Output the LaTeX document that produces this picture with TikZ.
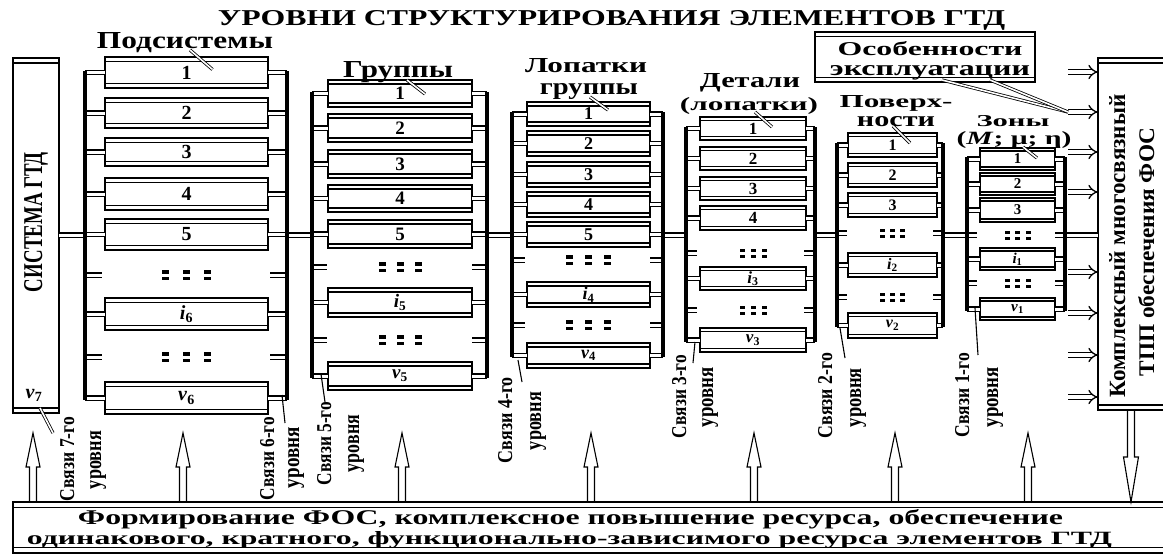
\documentclass[tikz,border=0pt]{standalone}
\usepackage{fontspec}
\setmainfont{Liberation Serif}
\usepackage{graphicx}
\usetikzlibrary{calc,arrows.meta}

\newcommand{\rsz}[3]{\resizebox{#1pt}{#2pt}{\bfseries #3}}
\newcommand{\elinset}{4}

\tikzset{
 elbox/.style={draw, line width=1.8pt, fill=white, inner sep=0pt, outer sep=0pt,
   path picture={\draw[line width=1.3pt]
     ([yshift=-\elinset pt]path picture bounding box.north west) -- ([yshift=-\elinset pt]path picture bounding box.north east)
     ([yshift=\elinset pt]path picture bounding box.south west) -- ([yshift=\elinset pt]path picture bounding box.south east);}},
 dbl/.style={double, double distance=3pt, line width=1.3pt},
 lead/.style={double, double distance=1.6pt, line width=0.8pt},
 thinl/.style={line width=1.1pt},
 bar/.style={line width=3.6pt, line cap=rect},
 impl/.style={double, double distance=3.6pt, line width=1.3pt, -{Implies}},
 lbl/.style={inner sep=0pt, anchor=base},
 vlbl/.style={inner sep=0pt, anchor=base, rotate=90},
 hollow/.style={line width=1.1pt, line join=miter},
 pics/dotrow/.style n args={4}{code={\foreach \k in {-1,0,1}{
   \fill (\k*#1-#2/2,-#4/2-#3) rectangle (\k*#1+#2/2,-#4/2);
   \fill (\k*#1-#2/2,#4/2) rectangle (\k*#1+#2/2,#4/2+#3);}}},
 pics/uparrow/.style={code={\draw[hollow] (-3.5,0) -- (-3.5,-35) -- (-7,-35) -- (0,-69) -- (7,-35) -- (3.5,-35) -- (3.5,0);}},
 pics/downarrow/.style={code={\draw[hollow] (-3.5,0) -- (-3.5,47) -- (-7.5,47) -- (0,92) -- (7.5,47) -- (3.5,47) -- (3.5,0);}},
}

% #1 name, #2 cx, #3 width, #4 font size, #5 inset, #6 boxes, #7 dots, #8 dot params, #9 stub length
\newcommand{\elgroup}[9]{%
  \def\elinset{#5}%
  \foreach \ta/\tb/\lab [count=\i] in {#6} {
    \pgfmathsetmacro\hh{\tb-\ta}
    \pgfmathsetmacro\cy{(\ta+\tb)/2}
    \node[elbox, minimum width=#3pt, minimum height=\hh pt, font=\fontsize{#4}{#4}\selectfont\bfseries] (#1b\i) at (#2,\cy) {\lab};
    \draw[dbl] (#1b\i.west) -- (#1b\i.west -| #1L);
    \draw[dbl] (#1b\i.east) -- (#1b\i.east -| #1R);
  }
  \foreach \yy [count=\j] in {#7} {
    \coordinate (#1d\j) at (#2,\yy);
    \pic at (#1d\j) {dotrow=#8};
    \draw[dbl] (#1d\j -| #1L) -- ++(#9,0);
    \draw[dbl] (#1d\j -| #1R) -- ++(-#9,0);
  }
}

\begin{document}
\begin{tikzpicture}[x=1pt,y=-1pt]
\useasboundingbox (0,0) rectangle (1163,554);
\clip (0,0) rectangle (1163,554);

% big boxes
\def\elinset{5}
\node[elbox, minimum width=46pt, minimum height=355pt] (sys) at (36,235.5) {};
\node[elbox, minimum width=80pt, minimum height=352pt] (rbox) at (1138,234) {};
\def\elinset{4.5}
\node[elbox, minimum width=220pt, minimum height=50pt] (osob) at (925,57) {};
\def\elinset{5.5}
\node[elbox, minimum width=1170pt, minimum height=51pt] (bot) at (598,527.5) {};

% bar positions
\coordinate (bus) at (0,235);
\coordinate (g1L) at (85,0);   \coordinate (g1R) at (287,0);
\coordinate (g2L) at (312,0);  \coordinate (g2R) at (487,0);
\coordinate (g3L) at (512,0);  \coordinate (g3R) at (663,0);
\coordinate (g4L) at (686,0);  \coordinate (g4R) at (815,0);
\coordinate (g5L) at (837,0);  \coordinate (g5R) at (943,0);
\coordinate (g6L) at (967,0);  \coordinate (g6R) at (1065,0);

% groups
\elgroup{g1}{186.5}{163}{20}{4.5}{57/88/1, 98/128/2, 138/166/3, 178/210/4, 219/250/5, 298/330/\textit{i}\textsubscript{6}, 382/414/\textit{ν}\textsubscript{6}}{275,357}{{21}{7}{3.5}{3}}{17}
\elgroup{g2}{400}{144}{19}{4}{80/107/1, 114/142/2, 150/178/3, 185/212/4, 220/248/5, 288/317/\textit{i}\textsubscript{5}, 362/390/\textit{ν}\textsubscript{5}}{267,340}{{18}{7}{3.5}{3}}{15}
\elgroup{g3}{588.5}{123}{18}{4}{102/126/1, 131/156/2, 162/187/3, 192/217/4, 222/247/5, 282/307/\textit{i}\textsubscript{4}, 343/368/\textit{ν}\textsubscript{4}}{260,325}{{19}{7}{3.5}{3}}{13}
\elgroup{g4}{753}{106}{17}{3.5}{117/140/1, 147/170/2, 177/200/3, 206/230/4, 267/290/\textit{i}\textsubscript{3}, 328/352/\textit{ν}\textsubscript{3}}{253,310}{{11}{5}{3}{3}}{11}
\elgroup{g5}{892.5}{89}{16}{3.5}{133/157/1, 163/187/2, 193/217/3, 253/277/\textit{i}\textsubscript{2}, 313/338/\textit{ν}\textsubscript{2}}{233,297}{{10}{5}{3}{3}}{10}
\elgroup{g6}{1017.5}{75}{15}{3}{148/170/1, 173/195/2, 198/222/3, 248/270/\textit{i}\textsubscript{1}, 298/320/\textit{ν}\textsubscript{1}}{235,283}{{10.5}{5}{3}{3}}{10}

% main bus
\draw[dbl] (sys.east |- bus) -- (g1L |- bus);
\draw[dbl] (g1R |- bus) -- (g2L |- bus);
\draw[dbl] (g2R |- bus) -- (g3L |- bus);
\draw[dbl] (g3R |- bus) -- (g4L |- bus);
\draw[dbl] (g4R |- bus) -- (g5L |- bus);
\draw[dbl] (g5R |- bus) -- (g6L |- bus);
\draw[dbl] (g6R |- bus) -- (rbox.west |- bus);

% bars
\foreach \g/\n in {g1/7,g2/7,g3/7,g4/6,g5/5,g6/5} {
  \draw[bar] (\g L |- \g b1.center) -- (\g L |- \g b\n.center);
  \draw[bar] (\g R |- \g b1.center) -- (\g R |- \g b\n.center);
}

% title
\node[lbl] (title) at (611.5,25) {\rsz{787}{15}{УРОВНИ СТРУКТУРИРОВАНИЯ ЭЛЕМЕНТОВ ГТД}};

% group titles
\node[lbl] (g1t) at (185,48) {\rsz{176}{16}{Подсистемы}};
\node[lbl] (g2t) at (398,77) {\rsz{110}{16}{Группы}};
\node[lbl] (g3t) at (586,73) {\rsz{122}{14}{Лопатки}};
\node[lbl] (g3u) at (589,94) {\rsz{98}{11}{группы}};
\node[lbl] (g4t) at (750,88) {\rsz{100}{14}{Детали}};
\node[lbl] (g4u) at (749,110) {\rsz{138}{13}{(лопатки)}};
\node[lbl] (g5t) at (896,107) {\rsz{113}{12}{Поверх-}};
\node[lbl] (g5u) at (896,126) {\rsz{78}{10}{ности}};
\node[lbl] (g6t) at (1013,126) {\rsz{73}{11}{Зоны}};
\node[lbl] (g6u) at (1014,144) {\rsz{115}{13}{(\textit{M}; μ; η)}};

% leaders from titles
\draw[lead] ($(g1t.base)+(5,2)$) -- ($(g1b1.center)+(26,-3)$);
\draw[lead] ($(g2t.base)+(9,3)$) -- ($(g2b1.center)+(25,0.5)$);
\draw[lead] ($(g3u.base)+(1,3)$) -- ($(g3b1.center)+(19.5,-4)$);
\draw[lead] ($(g4u.base)+(6,2)$) -- ($(g4b1.center)+(19,-1.5)$);
\draw[lead] ($(g5u.base)+(-3,0)$) -- ($(g5b1.center)+(17.5,-2)$);
\draw[lead] ($(g6u.base)+(9,3)$) -- ($(g6b1.center)+(19.5,-1)$);

% exploitation box text
\node[lbl] (o1) at (930,55) {\rsz{185}{14}{Особенности}};
\node[lbl] (o2) at (930,75) {\rsz{200}{10}{эксплуатации}};

% side texts
\node[vlbl] (syst) at (42,222) {\rsz{140}{18}{СИСТЕМА ГТД}};
\node[font=\fontsize{20}{20}\selectfont\bfseries, inner sep=0pt] (nu7) at (34,395) {\textit{ν}\textsubscript{7}};
\node[vlbl] (rt1) at (1125,246) {\rsz{303}{16}{Комплексный многосвязный}};
\node[vlbl] (rt2) at (1154,252) {\rsz{249}{16}{ТПП обеспечения ФОС}};

% bottom texts
\node[lbl] (bt1) at (570.5,524) {\rsz{985}{15}{Формирование ФОС, комплексное повышение ресурса, обеспечение}};
\node[lbl] (bt2) at (569.5,544) {\rsz{1085}{13}{одинакового, кратного, функционально-зависимого ресурса элементов ГТД}};

% level labels
\node[vlbl] (l7a) at (74,459) {\rsz{84}{14}{Связи 7-го}};
\node[vlbl] (l7b) at (101,460) {\rsz{58}{11}{уровня}};
\node[vlbl] (l6a) at (274,458.5) {\rsz{83}{14}{Связи 6-го}};
\node[vlbl] (l6b) at (299,457.5) {\rsz{61}{11}{уровня}};
\node[vlbl] (l5a) at (331,443.5) {\rsz{83}{14}{Связи 5-го}};
\node[vlbl] (l5b) at (359,443.5) {\rsz{57}{11}{уровня}};
\node[vlbl] (l4a) at (512,420) {\rsz{86}{14}{Связи 4-го}};
\node[vlbl] (l4b) at (541,421) {\rsz{58}{11}{уровня}};
\node[vlbl] (l3a) at (686,396.5) {\rsz{83}{14}{Связи 3-го}};
\node[vlbl] (l3b) at (713,397) {\rsz{60}{11}{уровня}};
\node[vlbl] (l2a) at (832,395.5) {\rsz{85}{14}{Связи 2-го}};
\node[vlbl] (l2b) at (861,397.5) {\rsz{59}{11}{уровня}};
\node[vlbl] (l1a) at (969,395) {\rsz{84}{14}{Связи 1-го}};
\node[vlbl] (l1b) at (998,397) {\rsz{60}{11}{уровня}};

% leaders to level labels
\coordinate (c7s) at (40,408);  \coordinate (c7e) at (53,433);
\coordinate (c6s) at (282,395); \coordinate (c6e) at (285,423);
\coordinate (c5s) at (321,374); \coordinate (c5e) at (325,402);
\coordinate (c4s) at (518,360); \coordinate (c4e) at (522,382);
\coordinate (c3s) at (695,342); \coordinate (c3e) at (693,363);
\coordinate (c2s) at (840,328); \coordinate (c2e) at (845,358);
\coordinate (c1s) at (975,308); \coordinate (c1e) at (978,355);
\draw[lead] (c7s) -- (c7e);
\foreach \k in {1,...,6} { \draw[thinl] (c\k s) -- (c\k e); }

% implication arrows into the right box
\foreach \yy [count=\k] in {72,112,152,192,272,313,355,397} {
  \coordinate (a\k) at (1068,\yy);
  \draw[impl] (a\k) -- (a\k -| rbox.west);
}
\draw[lead] ($(osob.south)+(17,-2)$) -- (a2);
\draw[lead] ($(osob.south)+(65,-2)$) -- (a2);

% hollow arrows
\foreach \xx in {33,183,402,591,754,895,1028} { \pic at (\xx,502) {uparrow}; }
\pic at (1131,410) {downarrow};
\end{tikzpicture}
\end{document}
